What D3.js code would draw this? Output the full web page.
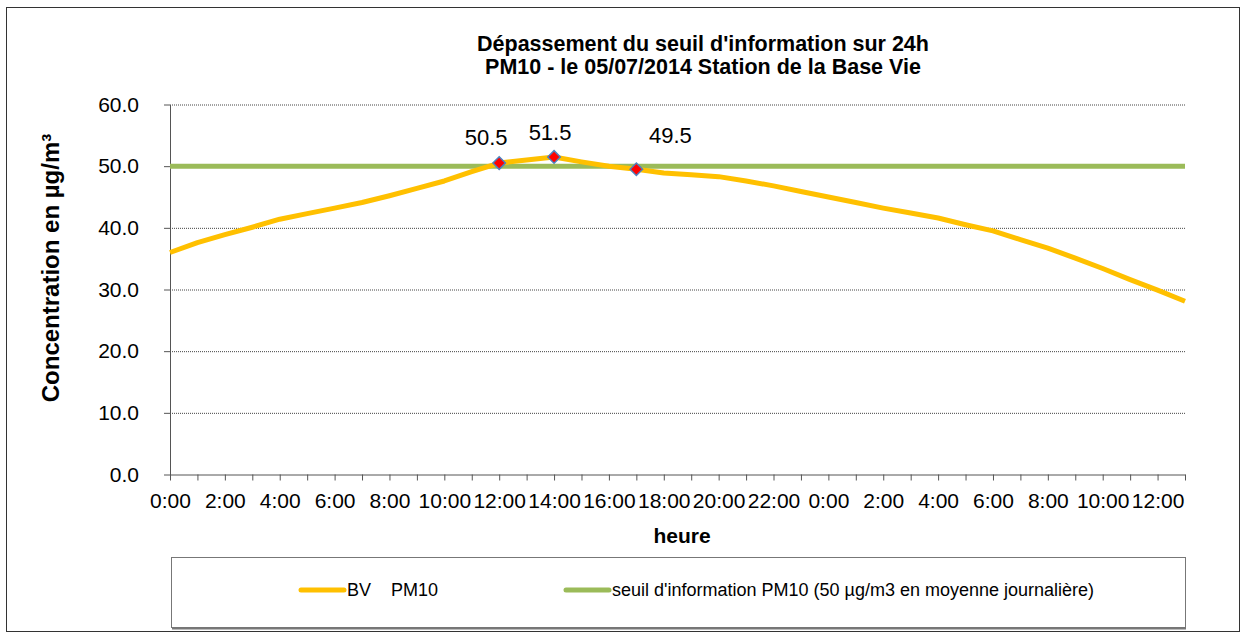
<!DOCTYPE html>
<html>
<head>
<meta charset="utf-8">
<script src="https://cdn.jsdelivr.net/npm/d3@7"></script>
<style>
  body { margin: 0; background: #fff; }
  text { font-family: "Liberation Sans", Arial, sans-serif; fill: #000; }
</style>
</head>
<body>
<div id="chart"></div>
<script>
// hours along the axis (two days, 0:00 -> 13:00)
var categories = ["0:00","1:00","2:00","3:00","4:00","5:00","6:00","7:00","8:00","9:00",
  "10:00","11:00","12:00","13:00","14:00","15:00","16:00","17:00","18:00","19:00",
  "20:00","21:00","22:00","23:00","0:00","1:00","2:00","3:00","4:00","5:00",
  "6:00","7:00","8:00","9:00","10:00","11:00","12:00","13:00"];

// BV PM10 concentrations
var pm10 = [36.0, 37.6, 38.9, 40.1, 41.4, 42.3, 43.2, 44.1, 45.2, 46.4,
  47.6, 49.1, 50.5, 51.0, 51.5, 50.7, 50.0, 49.5, 48.9, 48.6,
  48.3, 47.6, 46.8, 45.9, 45.0, 44.1, 43.2, 42.4, 41.6, 40.5,
  39.5, 38.1, 36.7, 35.1, 33.4, 31.6, 29.9, 28.1];

// information threshold
var seuil = 50;

// labelled points (index into categories)
var labelled = [12, 14, 17];
var labelNudge = [[-13, -18], [-4, -17], [34, -26]];

var yTicks = [0, 10, 20, 30, 40, 50, 60];

var W = 1247, H = 639;
var margin = { top: 104.5, right: 62, bottom: 164.5, left: 170 };
var width = W - margin.left - margin.right,
    height = H - margin.top - margin.bottom;

var svg = d3.select('#chart').append('svg')
  .attr('width', W)
  .attr('height', H);

// outer frame
svg.append('rect')
  .attr('x', 6.5).attr('y', 7.5)
  .attr('width', 1233).attr('height', 624)
  .attr('fill', '#fff')
  .attr('stroke', '#333')
  .attr('stroke-width', 1);

var xScale = d3.scalePoint()
  .domain(d3.range(categories.length))
  .range([0, width]);

var yScale = d3.scaleLinear()
  .domain([0, 60])
  .range([height, 0]);

var g = svg.append('g')
  .attr('transform', 'translate(' + margin.left + ',' + margin.top + ')');

// gridlines
g.append('g')
  .selectAll('line').data(yTicks.filter(function(d) { return d > 0; }))
  .enter().append('line')
    .attr('x1', 0).attr('x2', width)
    .attr('y1', function(d) { return yScale(d) + 0.5; })
    .attr('y2', function(d) { return yScale(d) + 0.5; })
    .attr('stroke', '#444')
    .attr('stroke-width', 1)
    .attr('stroke-dasharray', '1,1');

var yAxis = d3.axisLeft(yScale)
  .tickValues(yTicks)
  .tickFormat(d3.format('.1f'))
  .tickSize(6)
  .tickSizeOuter(0)
  .tickPadding(25);

var yGuide = g.append('g')
  .call(yAxis);
yGuide.selectAll('text').style('font-size', '21px').attr('font-family', null);
yGuide.selectAll('line,path').attr('stroke', '#555');

var xAxis = d3.axisBottom(xScale)
  .tickFormat(function(i) { return i % 2 === 0 ? categories[i] : ''; })
  .tickSize(6)
  .tickSizeOuter(0)
  .tickPadding(13);

var xGuide = g.append('g')
  .attr('transform', 'translate(0,' + height + ')')
  .call(xAxis);
xGuide.selectAll('text').style('font-size', '21px').attr('font-family', null);
xGuide.selectAll('line,path').attr('stroke', '#555');

// threshold line
var seuilLine = d3.line()
  .x(function(d, i) { return xScale(i); })
  .y(function() { return yScale(seuil); });

g.append('path')
  .datum(categories)
  .attr('d', seuilLine)
  .attr('fill', 'none')
  .attr('stroke', '#9BBB59')
  .attr('stroke-width', 5);

// PM10 line
var pmLine = d3.line()
  .x(function(d, i) { return xScale(i); })
  .y(function(d) { return yScale(d); });

g.append('path')
  .datum(pm10)
  .attr('d', pmLine)
  .attr('fill', 'none')
  .attr('stroke', '#FFC000')
  .attr('stroke-width', 5)
  .attr('stroke-linejoin', 'round');

// markers
g.selectAll('.marker').data(labelled)
  .enter().append('path')
    .attr('class', 'marker')
    .attr('d', d3.symbol().type(d3.symbolDiamond2).size(100))
    .attr('transform', function(i) {
      return 'translate(' + xScale(i) + ',' + yScale(pm10[i]) + ')';
    })
    .attr('fill', '#FF0000')
    .attr('stroke', '#4F81BD')
    .attr('stroke-width', 1.5);

g.selectAll('.dlabel').data(labelled)
  .enter().append('text')
    .attr('class', 'dlabel')
    .attr('x', function(i, k) { return xScale(i) + labelNudge[k][0]; })
    .attr('y', function(i, k) { return yScale(pm10[i]) + labelNudge[k][1]; })
    .attr('text-anchor', 'middle')
    .style('font-size', '22px')
    .text(function(i) { return pm10[i].toFixed(1); });

// titles
var title = svg.append('text')
  .attr('text-anchor', 'middle')
  .style('font-size', '21.5px')
  .style('font-weight', 'bold');
title.append('tspan').attr('x', 703).attr('y', 51)
  .text("Dépassement du seuil d'information sur 24h");
title.append('tspan').attr('x', 703).attr('y', 74)
  .text("PM10 - le 05/07/2014 Station de la Base Vie");

svg.append('text')
  .attr('transform', 'translate(59,268) rotate(-90)')
  .attr('text-anchor', 'middle')
  .style('font-size', '24px')
  .style('font-weight', 'bold')
  .text('Concentration en µg/m³');

svg.append('text')
  .attr('x', 682).attr('y', 543)
  .attr('text-anchor', 'middle')
  .style('font-size', '21px')
  .style('font-weight', 'bold')
  .text('heure');

// legend
var legend = svg.append('g');
legend.append('rect')
  .attr('x', 171.5).attr('y', 557.5)
  .attr('width', 1014).attr('height', 70)
  .attr('fill', '#fff')
  .attr('stroke', '#777');
legend.append('line')
  .attr('x1', 172).attr('x2', 1186)
  .attr('y1', 628.5).attr('y2', 628.5)
  .attr('stroke', '#777').attr('stroke-width', 2);

var legendItems = [
  { name: 'BV    PM10', color: '#FFC000', x: 301 },
  { name: "seuil d'information PM10 (50 µg/m3 en moyenne journalière)", color: '#9BBB59', x: 566 }
];
legendItems.forEach(function(d) {
  legend.append('line')
    .attr('x1', d.x).attr('x2', d.x + 43)
    .attr('y1', 590).attr('y2', 590)
    .attr('stroke', d.color).attr('stroke-width', 5)
    .attr('stroke-linecap', 'round');
  legend.append('text')
    .attr('x', d.x + 46).attr('y', 596)
    .attr('xml:space', 'preserve')
    .style('white-space', 'pre')
    .style('font-size', '18px')
    .text(d.name);
});
</script>
</body>
</html>
